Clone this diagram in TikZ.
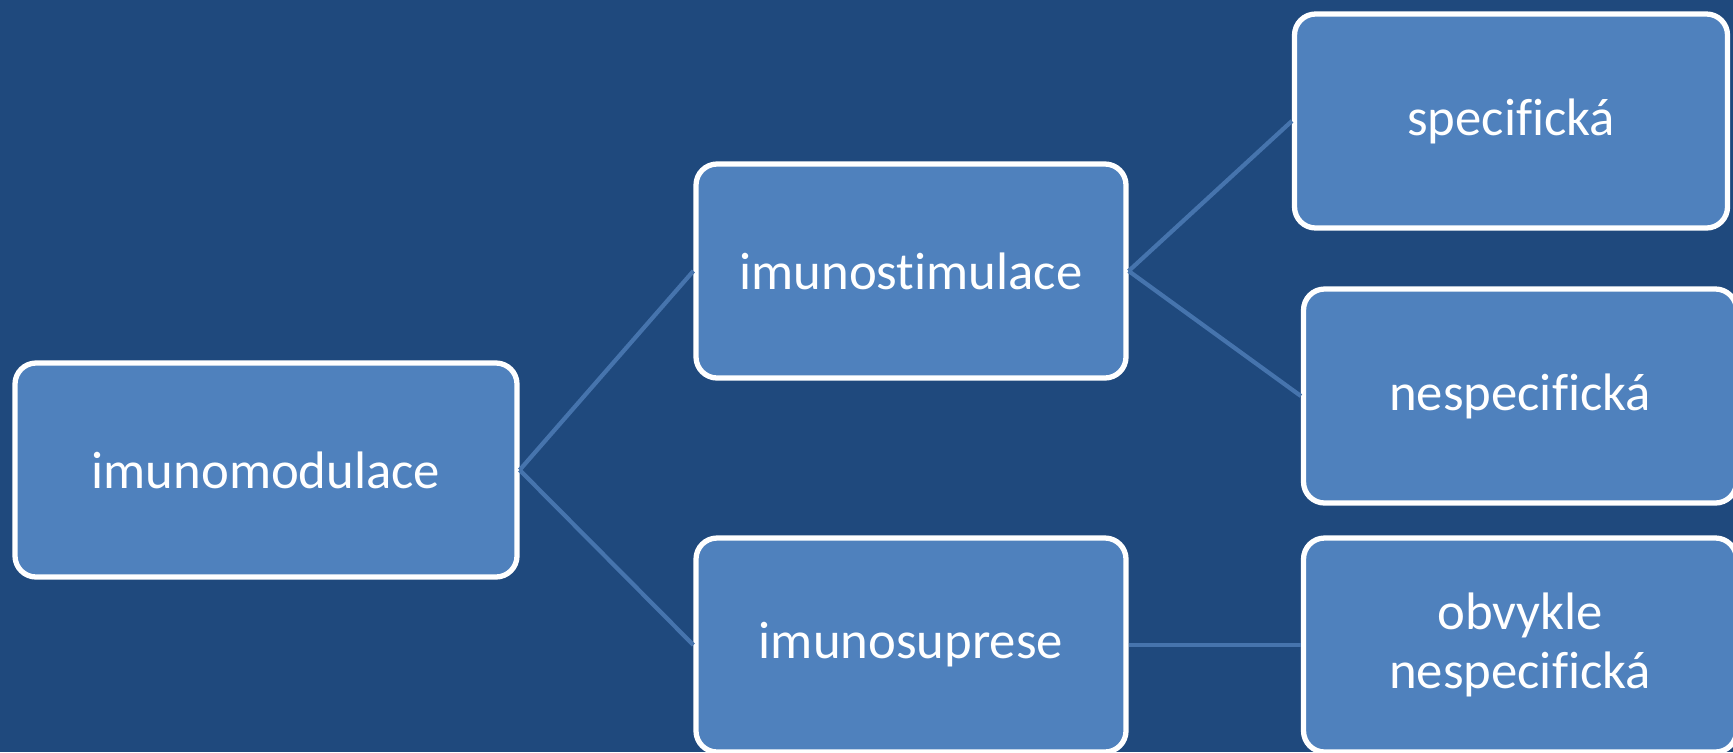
\documentclass[tikz,border=0pt]{standalone}
\usepackage{fontspec}
\setmainfont[Ligatures={NoCommon}]{Carlito}
\usepackage{tikz}
\usetikzlibrary{positioning}
\definecolor{imbg}{HTML}{1F497D}
\definecolor{imbox}{HTML}{4F81BD}
\definecolor{imline}{HTML}{4674AD}

\begin{document}
\begin{tikzpicture}[x=1cm,y=1cm,
    imbox/.style={draw=white,fill=imbox,line width=1.5pt,rounded corners=6pt,
      minimum height=2.14cm,inner sep=0pt,align=center,
      font=\fontsize{15}{17}\selectfont,text=white},
    imlink/.style={draw=imline,line width=1.2pt}]
  \fill[imbg] (0,0) rectangle (17.33,7.52);
  \useasboundingbox (0,0) rectangle (17.33,7.52);
  \clip (0,0) rectangle (17.33,7.52);
  % left column
  \node[imbox,minimum width=5.02cm] (modul) at (2.66,2.82) {imunomodulace};
  % middle column
  \node[imbox,minimum width=4.30cm] (stim) at (9.11,4.81) {imunostimulace};
  \node[imbox,minimum width=4.30cm] (supr) at (9.11,1.07) {imunosuprese};
  % right column
  \node[imbox,minimum width=4.33cm] (spec) at (15.11,6.31) {specifická};
  \node[imbox,minimum width=4.33cm] (nespec) at (15.20,3.56) {nespecifická};
  \node[imbox,minimum width=4.33cm] (obv) at (15.20,1.07) {obvykle\\nespecifická};
  % connectors
  \draw[imlink] (modul.east) -- (stim.west);
  \draw[imlink] (modul.east) -- (supr.west);
  \draw[imlink] (stim.east) -- (spec.west);
  \draw[imlink] (stim.east) -- (nespec.west);
  \draw[imlink] (supr.east) -- (obv.west);
\end{tikzpicture}
\end{document}
